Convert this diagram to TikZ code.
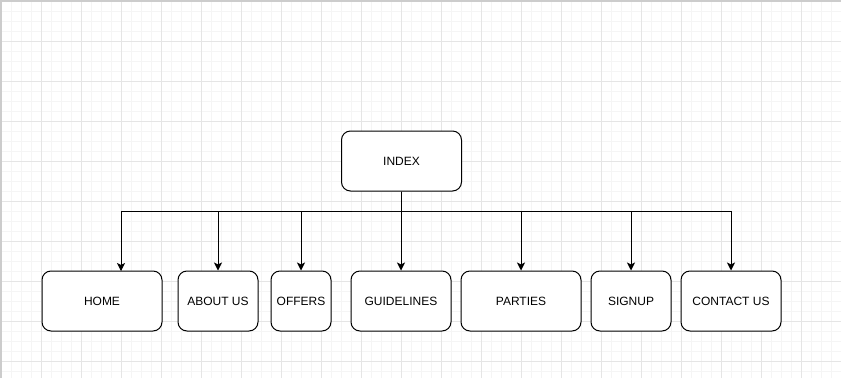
\documentclass[tikz,border=0pt]{standalone}
\usepackage{fontspec}
\setmainfont{Liberation Sans}
\usetikzlibrary{arrows.meta}
\begin{document}
\begin{tikzpicture}[x=1pt,y=-1pt,
  box/.style={draw=black, line width=1pt, rounded corners=9pt, fill=white,
    minimum height=60pt, inner sep=0pt, font=\fontsize{12}{14}\selectfont},
  link/.style={draw=black, line width=1pt, -{Stealth[length=8pt,width=8pt,inset=2pt]}},
  minorgrid/.style={draw=black!4, line width=1pt},
  majorgrid/.style={draw=black!10, line width=1pt}]
\useasboundingbox (0,0) rectangle (841,378);
\fill[white] (0,0) rectangle (841,378);
% background grid
\foreach \x in {11,21,...,841} \draw[minorgrid] (\x,0) -- (\x,378);
\foreach \y in {11,21,...,378} \draw[minorgrid] (0,\y) -- (841,\y);
\foreach \x in {41,81,...,841} \draw[majorgrid] (\x,0) -- (\x,378);
\foreach \y in {41,81,...,378} \draw[majorgrid] (0,\y) -- (841,\y);
\draw[draw=black!20, line width=1.5pt] (1,378) -- (1,0.75) -- (841,0.75);

% pages
\node[box, minimum width=120pt] (index) at (401.5,161) {INDEX};
\node[box, minimum width=120pt] (home)       at (102,301) {HOME};
\node[box, minimum width=80pt]  (about)      at (218,301) {ABOUT US};
\node[box, minimum width=60pt]  (offers)     at (301,301) {OFFERS};
\node[box, minimum width=100pt] (guidelines) at (401,301) {GUIDELINES};
\node[box, minimum width=120pt] (parties)    at (521,301) {PARTIES};
\node[box, minimum width=80pt]  (signup)     at (631,301) {SIGNUP};
\node[box, minimum width=100pt] (contact)    at (731,301) {CONTACT US};

% links from the index to each page
\coordinate (bus) at (401,211);
\coordinate (homein) at (121,271);
\draw[link] (index.south) |- (bus) -| (homein);
\draw[link] (index.south) |- (bus) -| (about.north);
\draw[link] (index.south) |- (bus) -| (offers.north);
\draw[link] (index.south) |- (bus) -| (guidelines.north);
\draw[link] (index.south) |- (bus) -| (parties.north);
\draw[link] (index.south) |- (bus) -| (signup.north);
\draw[link] (index.south) |- (bus) -| (contact.north);
\end{tikzpicture}
\end{document}
